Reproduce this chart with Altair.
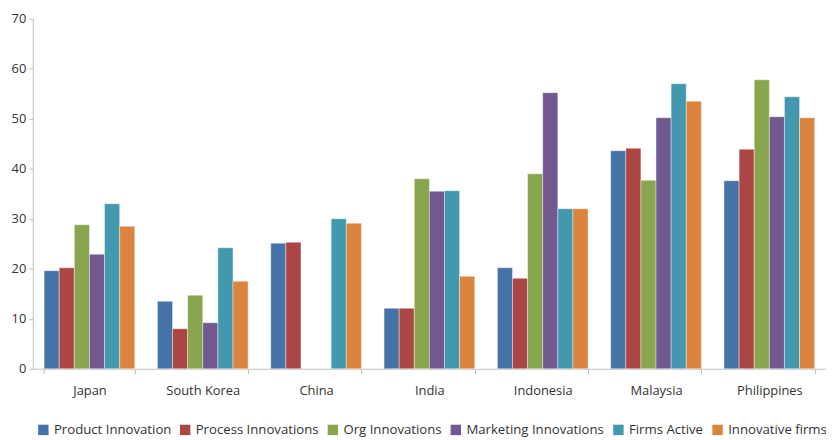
import altair as alt
import pandas as pd

countries = ["Japan", "South Korea", "China", "India", "Indonesia", "Malaysia", "Philippines"]
series = ["Product Innovation", "Process Innovations", "Org Innovations",
          "Marketing Innovations", "Firms Active", "Innovative firms"]
colors = ["#4572A7", "#AA4643", "#89A54E", "#71588F", "#4198AF", "#DB843D"]

product = [19.6, 13.5, 25.1, 12.1, 20.2, 43.6, 37.6]
process = [20.2, 8.0, 25.3, 12.1, 18.1, 44.1, 43.9]
org = [28.8, 14.7, None, 38.0, 39.0, 37.7, 57.8]
marketing = [22.9, 9.2, None, 35.5, 55.2, 50.2, 50.4]
active = [33.0, 24.2, 30.0, 35.6, 32.0, 57.0, 54.4]
innovative = [28.5, 17.5, 29.1, 18.5, 32.0, 53.5, 50.2]

values = [product, process, org, marketing, active, innovative]
rows = []
for s, vals in zip(series, values):
    for c, v in zip(countries, vals):
        if v is not None:
            rows.append({"Country": c, "Series": s, "Value": v})
df = pd.DataFrame(rows)

font = "Open Sans"

chart = alt.Chart(df).mark_bar(stroke="white", strokeWidth=0.4).encode(
    x=alt.X("Country:N", sort=countries, title=None,
            scale=alt.Scale(paddingInner=0.2, paddingOuter=0.1),
            axis=alt.Axis(labelAngle=0, tickBand="extent", tickSize=5,
                          labelPadding=11, domainColor="#BFBFBF", tickColor="#BFBFBF",
                          labelColor="#333333", labelFontSize=13, labelFont=font)),
    xOffset=alt.XOffset("Series:N", sort=series),
    y=alt.Y("Value:Q", title=None,
            scale=alt.Scale(domain=[0, 70], nice=False),
            axis=alt.Axis(values=[0, 10, 20, 30, 40, 50, 60, 70], grid=False,
                          tickSize=4, labelPadding=3, domainColor="#BFBFBF",
                          tickColor="#BFBFBF", labelColor="#333333",
                          labelFontSize=13, labelFont=font)),
    color=alt.Color("Series:N", sort=series,
                    scale=alt.Scale(domain=series, range=colors),
                    legend=alt.Legend(title=None, orient="none", direction="horizontal",
                                      legendX=4, legendY=408, symbolType="square",
                                      symbolSize=110, symbolStrokeWidth=0,
                                      symbolOpacity=1, labelFontSize=13.3, labelFont=font,
                                      labelColor="#333333", columnPadding=7,
                                      labelOffset=4, columns=6)),
).properties(
    width=800, height=353,
    padding={"left": 25, "top": 9, "right": 0, "bottom": 70},
    autosize=alt.AutoSizeParams(type="none"),
).configure_view(stroke=None)

chart.save("out.html", embed_options={"renderer": "svg", "actions": False})
